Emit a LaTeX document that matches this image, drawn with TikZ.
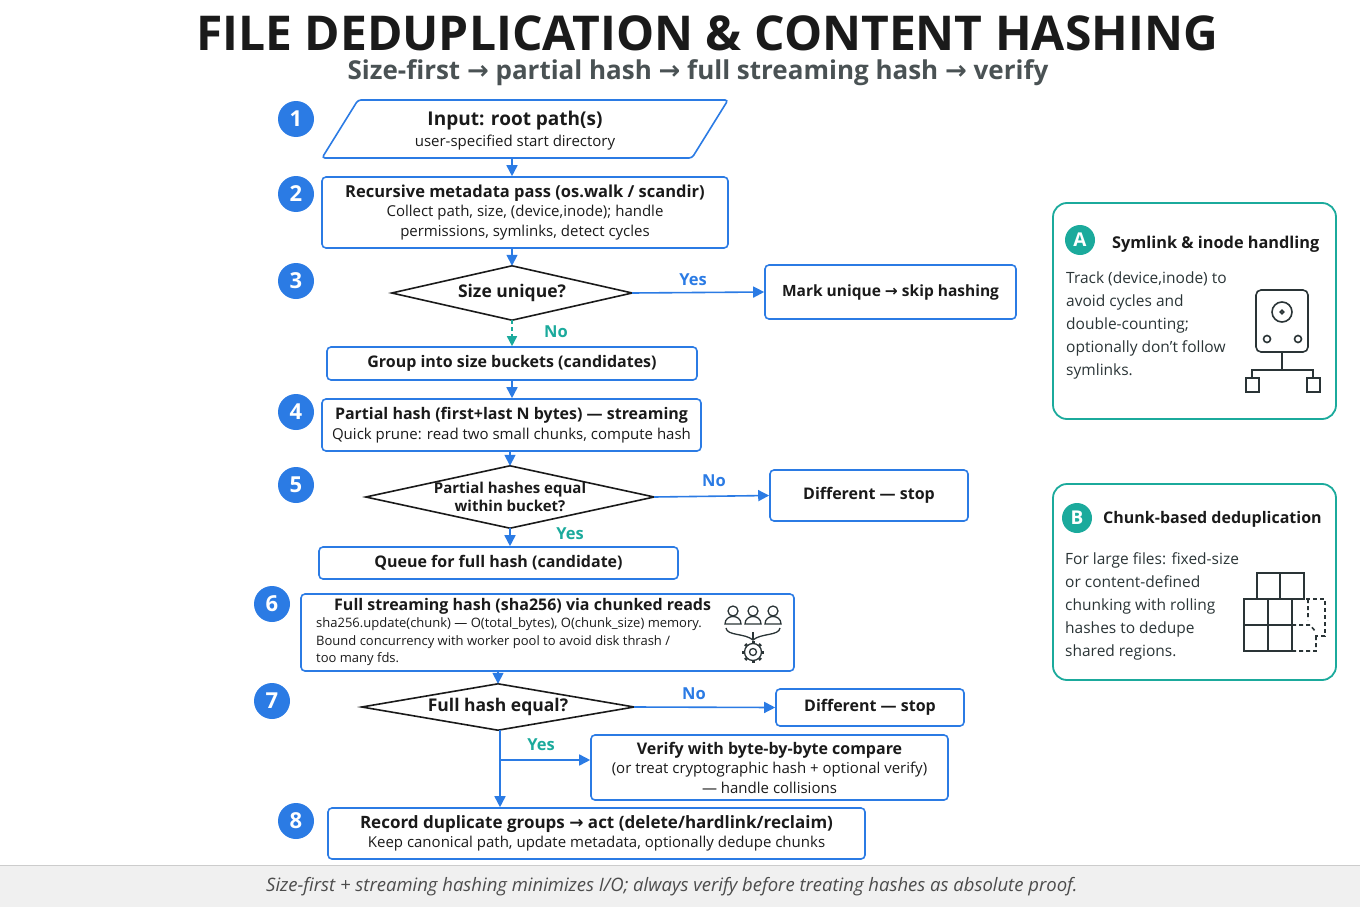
\documentclass[tikz,border=0pt]{standalone}
\usepackage{fontspec}
\setmainfont{Open Sans}
\newfontfamily\symf{DejaVu Sans}
\usetikzlibrary{arrows.meta}
\definecolor{blu}{HTML}{2B7BE4}
\definecolor{tea}{HTML}{1BAA9C}
\definecolor{ink}{HTML}{1A1A1A}
\definecolor{dk}{HTML}{2A3436}
\newcommand{\ar}{{\symf →}}
\tikzset{
  box/.style={draw=blu,line width=1.6pt,rounded corners=4pt,align=center,inner sep=0,text=ink,font=\fontsize{15}{19.5}\selectfont},
  dia/.style={inner sep=0,align=center,text=ink,font=\fontsize{17.5}{19}\selectfont\bfseries},
  diad/.style={draw=ink,line width=1.6pt},
  num/.style={circle,fill=blu,text=white,minimum size=36pt,inner sep=0,font=\fontsize{22}{22}\selectfont\bfseries},
  arr/.style={draw=blu,line width=1.6pt,-{Triangle[length=11pt,width=11pt]}},
  lb/.style={font=\fontsize{16.5}{16.5}\selectfont\bfseries,text=blu},
  lt/.style={font=\fontsize{16.5}{16.5}\selectfont\bfseries,text=tea},
  pan/.style={draw=tea,line width=1.8pt,rounded corners=14pt},
  ic/.style={draw=dk,line width=1.6pt},
}
\begin{document}
\begin{tikzpicture}[x=1pt,y=-1pt]
\useasboundingbox (0,0) rectangle (1360,907);
\fill[gray!12] (0,865) rectangle (1360,907);
\draw[gray!40] (0,865)--(1360,865);
\node[font=\fontsize{18.5}{18.5}\selectfont\itshape,text=black!70] (foot) at (672,887) {Size-first + streaming hashing minimizes I/O; always verify before treating hashes as absolute proof.};
\node[font=\fontsize{48}{48}\selectfont\bfseries,text=ink] (title) at (707,33) {FILE DEDUPLICATION \& CONTENT HASHING};
\node[font=\fontsize{26}{26}\selectfont\bfseries,text=dk!85] (sub) at (698,73) {Size-first \ar{} partial hash \ar{} full streaming hash \ar{} verify};
% numbers
\foreach \n/\x/\y in {1/296/119,2/296/194,3/296/281,4/296/412,5/296/485,6/272/604,7/272/701,8/296/821}
  \node[num] (c\n) at (\x,\y) {\n};
% step 1
\draw[blu,line width=1.6pt,rounded corners=3pt] (358,100)--(728,100)--(692,158)--(322,158)--cycle;
\node[font=\fontsize{19}{19}\selectfont\bfseries,text=ink] (t1) at (515,121) {Input: root path(s)};
\node[font=\fontsize{15}{15}\selectfont,text=ink] (u1) at (515,143) {user-specified start directory};
% step 2
\node[box,minimum width=406pt,minimum height=71pt] (s2) at (525,212.5) {{\fontsize{16.5}{20.5}\selectfont\bfseries Recursive metadata pass (os.walk / scandir)}\\Collect path, size, (device,inode); handle\\permissions, symlinks, detect cycles};
% step 3
\node[dia,minimum width=240pt,minimum height=54pt] (d3) at (512,293) {Size unique?};
\draw[diad] (d3.north)--(d3.east)--(d3.south)--(d3.west)--cycle;
\node[box,minimum width=251pt,minimum height=54pt,font=\fontsize{15.5}{19}\selectfont\bfseries] (mu) at (890.5,292) {Mark unique \ar{} skip hashing};
\node[box,minimum width=370pt,minimum height=33pt,font=\fontsize{16}{19}\selectfont\bfseries] (grp) at (512,363.5) {Group into size buckets (candidates)};
% step 4
\node[box,minimum width=379pt,minimum height=52pt] (s4) at (511.5,425) {{\fontsize{16}{19.5}\selectfont\bfseries Partial hash (first+last N bytes) — streaming}\\Quick prune: read two small chunks, compute hash};
% step 5
\node[dia,minimum width=288pt,minimum height=62pt,font=\fontsize{15}{18}\selectfont\bfseries] (d5) at (510,497) {Partial hashes equal\\within bucket?};
\draw[diad] (d5.north)--(d5.east)--(d5.south)--(d5.west)--cycle;
\node[box,minimum width=198pt,minimum height=51pt,font=\fontsize{16}{19}\selectfont\bfseries] (df1) at (869,495.5) {Different — stop};
\node[box,minimum width=359pt,minimum height=32pt,font=\fontsize{16}{19}\selectfont\bfseries] (q) at (498.5,563) {Queue for full hash (candidate)};
% step 6
\node[box,minimum width=493pt,minimum height=77pt] (s6) at (547.5,632.5) {};
\node[anchor=north west,align=left,inner sep=0,text=ink,font=\fontsize{13}{17.5}\selectfont] (s6t) at (316,598) {\hspace*{18pt}{\fontsize{16}{19}\selectfont\bfseries Full streaming hash (sha256) via chunked reads}\\sha256.update(chunk) — O(total\_bytes), O(chunk\_size) memory.\\Bound concurrency with worker pool to avoid disk thrash /\\too many fds.};
% icon people + gear
\begin{scope}[line width=1.3pt,draw=dk]
\foreach \px in {733,753,773}{
  \draw (\px,611) circle (5);
  \draw (\px-8,624) .. controls (\px-8,614) and (\px+8,614) .. (\px+8,624) -- cycle;}
\draw (726,628) .. controls (727,636) and (745,633) .. (753,640) .. controls (761,633) and (779,636) .. (780,628);
\draw (753,632)--(753,640);
\foreach \a in {0,45,...,315} \draw[line width=3pt] (753,652)+(\a:9) -- +(\a:11);
\draw (753,652) circle (8.5);
\draw (753,652) circle (3.5);
\end{scope}
% step 7
\node[dia,minimum width=272pt,minimum height=46pt] (d7) at (498,707) {Full hash equal?};
\draw[diad] (d7.north)--(d7.east)--(d7.south)--(d7.west)--cycle;
\node[box,minimum width=188pt,minimum height=37pt,font=\fontsize{16}{19}\selectfont\bfseries] (df2) at (870,707.5) {Different — stop};
\node[box,minimum width=357pt,minimum height=65pt] (ver) at (769.5,767.5) {{\fontsize{16}{19.5}\selectfont\bfseries Verify with byte-by-byte compare}\\(or treat cryptographic hash + optional verify)\\— handle collisions};
% step 8
\node[box,minimum width=537pt,minimum height=51pt] (s8) at (596.5,833.5) {{\fontsize{17}{20.5}\selectfont\bfseries Record duplicate groups \ar{} act (delete/hardlink/reclaim)}\\Keep canonical path, update metadata, optionally dedupe chunks};
% connectors
\coordinate (p1) at (512,158);
\draw[arr] (p1) -- (s2.north -| p1);
\draw[arr] (s2.south -| d3.north) -- (d3.north);
\draw[arr] (d3.east) -- (mu.west);
\node[lb] (y3) at (693,280) {Yes};
\draw[draw=tea,line width=1.6pt,dash pattern=on 4pt off 3pt,-{Triangle[length=10pt,width=10pt]},tea] (d3.south) -- (grp.north);
\node[lt] (n3) at (556,332) {No};
\draw[arr] (grp.south) -- (s4.north -| grp.south);
\draw[arr] (s4.south -| d5.north) -- (d5.north);
\draw[arr] (d5.east) -- (df1.west);
\node[lb] (n5) at (714,481) {No};
\draw[arr] (d5.south) -- (q.north -| d5.south);
\node[lt] (y5) at (570,534) {Yes};
\draw[arr] (s6.south -| d7.north) -- (d7.north);
\draw[arr] (d7.east) -- (df2.west);
\node[lb] (n7) at (694,694) {No};
\coordinate (br) at (500,760);
\draw[arr] (d7.south -| br) -- (s8.north -| br);
\draw[arr] (br) -- (ver.west |- br);
\node[lt] (yl) at (541,745) {Yes};
% panel A
\draw[pan] (1053,203) rectangle (1336,419);
\node[circle,fill=tea,text=white,minimum size=30pt,inner sep=0,font=\fontsize{19}{19}\selectfont\bfseries] (ca) at (1080,240) {A};
\node[anchor=west,font=\fontsize{16.3}{16.3}\selectfont\bfseries,text=ink,inner sep=0] (ta) at (1112,244) {Symlink \& inode handling};
\node[anchor=north west,align=left,inner sep=0,text=dk,font=\fontsize{15.5}{23}\selectfont] (ba) at (1066,272) {Track (device,inode) to\\avoid cycles and\\double-counting;\\optionally don’t follow\\symlinks.};
\begin{scope}[ic]
\draw[rounded corners=5pt] (1256,290) rectangle (1308,352);
\draw (1282,312) circle (10); \draw (1282,312) circle (1.8);
\draw (1267,339) circle (3.5); \draw (1298,339) circle (3.5);
\draw (1282,352)--(1282,370); \draw (1252,378)--(1252,370)--(1313,370)--(1313,378);
\draw (1246,378) rectangle (1259,392); \draw (1307,378) rectangle (1320,392);
\end{scope}
% panel B
\draw[pan] (1053,484) rectangle (1336,680);
\node[circle,fill=tea,text=white,minimum size=30pt,inner sep=0,font=\fontsize{19}{19}\selectfont\bfseries] (cb) at (1077,518) {B};
\node[anchor=west,font=\fontsize{16}{16}\selectfont\bfseries,text=ink,inner sep=0] (tb) at (1103,519) {Chunk-based deduplication};
\node[anchor=north west,align=left,inner sep=0,text=dk,font=\fontsize{15.5}{23}\selectfont] (bb) at (1065,552) {For large files: fixed-size\\or content-defined\\chunking with rolling\\hashes to dedupe\\shared regions.};
\begin{scope}[ic]
\draw (1257,573) rectangle (1304,599); \draw (1280,573)--(1280,599);
\draw (1244,599) rectangle (1292,651); \draw (1244,625)--(1292,625); \draw (1268,599)--(1268,651);
\draw[dash pattern=on 4pt off 3pt] (1292,599)--(1325,599)--(1325,636)--(1315,636);
\draw[dash pattern=on 4pt off 3pt] (1292,651)--(1316,651)--(1316,637) (1292,625)--(1310,625)--(1316,632) (1308,599)--(1308,620);
\end{scope}
\end{tikzpicture}
\end{document}
